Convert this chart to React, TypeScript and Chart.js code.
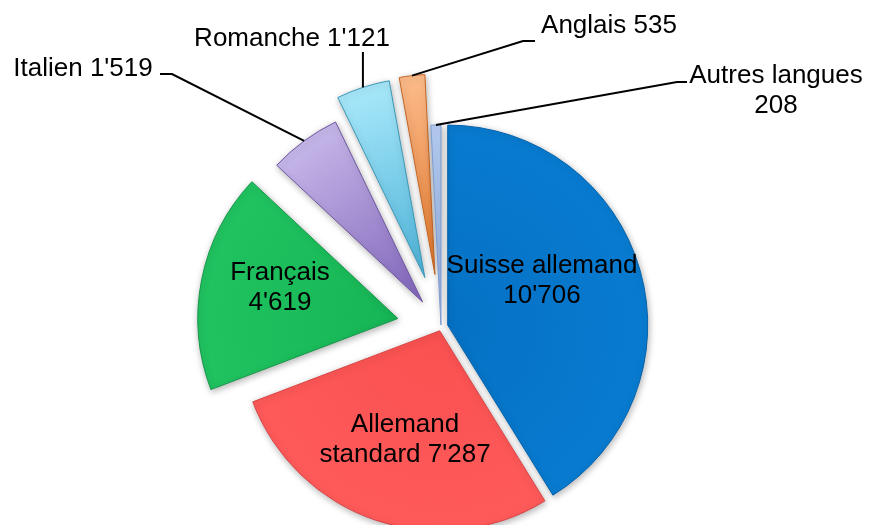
import { useEffect, useRef } from "react";
import { Chart, registerables } from "chart.js";

Chart.register(...registerables);

// ---- data ----
const categories = [
  "Suisse allemand",
  "Allemand standard",
  "Français",
  "Italien",
  "Romanche",
  "Anglais",
  "Autres langues",
];
const values = [10706, 7287, 4619, 1519, 1121, 535, 208];

// ---- styling / layout ----
const RADIUS = 200;
const explode = [7, 4, 44, 31, 52, 53, 2]; // px each slice is pulled out
const innerColors = ["#0571C4", "#FA5050", "#16B555", "#8064BA", "#4CB2D8", "#E3782C", "#93B1E6"];
const outerColors = ["#087BD0", "#FF5A5A", "#20C360", "#C5B6E8", "#A8E8FA", "#FCBB8A", "#B7CEF3"];
const edgeColors = ["#0462AC", "#DA4646", "#15974A", "#6F56A2", "#3A98B8", "#C86521", "#7F9CD0"];
const wordsOnFirstLine = [2, 1, 1, 2, 2, 2, 2];
type LabelPos = { x: number; y: number; lead?: Array<[number | null, number]> };
const labelLayout: LabelPos[] = [
  { x: 542, y: 273 },
  { x: 405, y: 432 },
  { x: 280, y: 280 },
  { x: 83, y: 76, lead: [[172, 74], [160, 74]] },
  { x: 292, y: 46, lead: [[null, 52]] },
  { x: 609, y: 33, lead: [[523, 41], [535, 41]] },
  { x: 776, y: 83, lead: [[677, 82], [687, 82]] },
];
const LINE_GAP = 30;
const FONT = '26px "Liberation Sans", Arial, sans-serif';

const fmt = (v: number) => String(v).replace(/\B(?=(\d{3})+(?!\d))/g, "'");

function labelLines(i: number): string[] {
  const words = (categories[i] + " " + fmt(values[i])).split(" ");
  const n = wordsOnFirstLine[i];
  const first = words.slice(0, n).join(" ");
  const rest = words.slice(n).join(" ");
  return rest ? [first, rest] : [first];
}

// Chart.js enlarges/narrows offset slices; compensate so each exploded
// slice keeps its true angle and radius.
const explodeFix = {
  id: "explodeFix",
  afterDatasetsUpdate(chart: any) {
    const meta = chart.getDatasetMeta(0);
    meta.data.forEach((el: any, i: number) => {
      const t = explode[i];
      const fix = 1 - Math.sin(Math.min(Math.PI, el.circumference));
      const r = t * fix;
      const R = el.outerRadius;
      el.$R = R;
      el.$mid = (el.startAngle + el.endAngle) / 2;
      el.outerRadius = R - r;
      const d = r / (2 * Math.PI * R);
      el.startAngle -= d;
      el.endAngle += d;
    });
  },
};

const shadowAndLabels = {
  id: "shadowAndLabels",
  beforeDatasetsDraw(chart: any) {
    const ctx = chart.ctx;
    ctx.save();
    ctx.shadowColor = "rgba(0,0,0,0.3)";
    ctx.shadowBlur = 7;
    ctx.shadowOffsetX = 1;
    ctx.shadowOffsetY = 2;
  },
  afterDatasetsDraw(chart: any) {
    const ctx = chart.ctx;
    ctx.restore();
    const meta = chart.getDatasetMeta(0);
    ctx.save();
    ctx.font = FONT;
    ctx.fillStyle = "#000";
    ctx.strokeStyle = "#000";
    ctx.lineWidth = 2;
    ctx.textAlign = "center";
    ctx.textBaseline = "alphabetic";
    meta.data.forEach((el: any, i: number) => {
      const lay = labelLayout[i];
      if (lay.lead) {
        const mid = el.$mid;
        const dist = explode[i] + el.$R;
        const sx = el.x + Math.cos(mid) * dist;
        const sy = el.y + Math.sin(mid) * dist;
        ctx.beginPath();
        ctx.moveTo(sx, sy);
        lay.lead.forEach(([px, py]) => ctx.lineTo(px === null ? sx : px, py));
        ctx.stroke();
      }
      labelLines(i).forEach((line, k) => ctx.fillText(line, lay.x, lay.y + k * LINE_GAP));
    });
    ctx.restore();
  },
};

export default function App() {
  const ref = useRef<HTMLCanvasElement | null>(null);
  useEffect(() => {
    if (!ref.current) return;
    const bg = (c: any) => {
      if (c.type !== "data") return innerColors[0];
      const i = c.dataIndex;
      const area = c.chart.chartArea;
      if (!area) return outerColors[i];
      const cx = (area.left + area.right) / 2;
      const cy = (area.top + area.bottom) / 2;
      const g = c.chart.ctx.createRadialGradient(cx, cy, 0, cx, cy, RADIUS);
      g.addColorStop(0, innerColors[i]);
      g.addColorStop(1, outerColors[i]);
      return g;
    };
    const chart = new Chart(ref.current, {
      type: "pie",
      data: {
        labels: categories,
        datasets: [
          {
            data: values,
            radius: RADIUS,
            offset: explode.map((e) => e * 4),
            backgroundColor: bg,
            borderColor: edgeColors,
            borderWidth: 1,
            clip: false,
          } as any,
        ],
      },
      options: {
        animation: false,
        responsive: false,
        events: [],
        layout: { padding: { left: 12, right: 0, top: 129, bottom: 0 } },
        plugins: { legend: { display: false }, tooltip: { enabled: false } },
      },
      plugins: [explodeFix, shadowAndLabels],
    });
    return () => chart.destroy();
  }, []);
  return (
    <div style={{ position: "fixed", left: 0, top: 0, width: 870, height: 525, background: "#fff" }}>
      <canvas ref={ref} width={870} height={525} />
    </div>
  );
}
